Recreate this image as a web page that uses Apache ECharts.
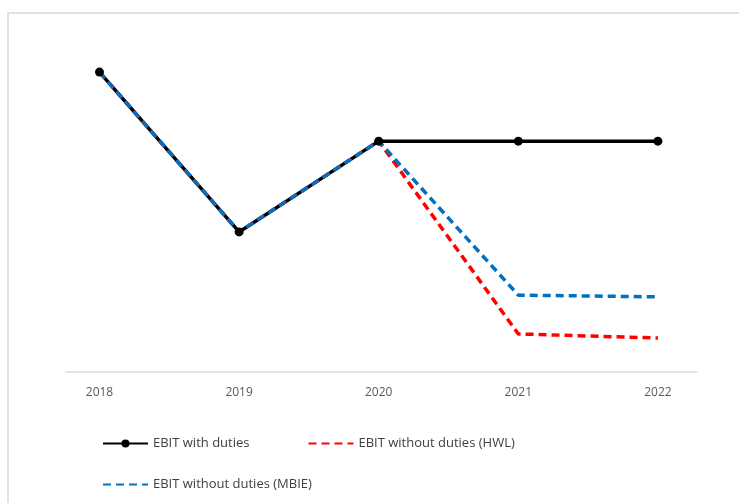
<!doctype html>
<html>
<head>
<meta charset="utf-8">
<title>EBIT</title>
<script src="https://cdn.jsdelivr.net/npm/echarts@6/dist/echarts.min.js"></script>
<style>
  html, body { margin: 0; padding: 0; background: #fff; }
  #chart { width: 739px; height: 503px; }
</style>
</head>
<body>
<div id="chart"></div>
<script>
// years on the x axis
var years = ['2018', '2019', '2020', '2021', '2022'];
// EBIT index (no scale shown on the original)
var withDuties = [88.2, 41.2, 67.9, 67.9, 67.9];
var withoutHWL = [88.2, 41.2, 67.9, 11.2, 10.0];
var withoutMBIE = [88.2, 41.2, 67.9, 22.6, 22.1];

var names = ['EBIT with duties', 'EBIT without duties (HWL)', 'EBIT without duties (MBIE)'];

function pts(arr) {
  return arr.map(function (v, i) { return [i, v]; });
}

var chart = echarts.init(document.getElementById('chart'));
var font = '"Open Sans", "Noto Sans", sans-serif';
var legendText = { color: '#404040', fontSize: 13, fontFamily: font };

chart.setOption({
  animation: false,
  textStyle: { fontFamily: font },
  graphic: [{
    type: 'rect',
    shape: { x: 8, y: 13, width: 800, height: 600 },
    style: { fill: 'none', stroke: '#d9d9d9', lineWidth: 1.5 },
    silent: true
  }],
  grid: { left: 66, right: 42, top: 32, bottom: 131 },
  xAxis: {
    type: 'value',
    min: -0.24,
    max: 4.28,
    axisLine: { show: true, lineStyle: { color: '#d9d9d9', width: 1.5 } },
    axisTick: { show: false },
    splitLine: { show: false },
    axisLabel: {
      customValues: [0, 1, 2, 3, 4],
      formatter: function (v) { return years[Math.round(v)]; },
      color: '#595959',
      fontSize: 12,
      margin: 15
    }
  },
  yAxis: {
    type: 'value',
    min: 0,
    max: 100,
    show: false,
    splitLine: { show: false }
  },
  legend: [{
    left: 97,
    top: 432,
    itemWidth: 45,
    itemHeight: 10,
    itemGap: 58,
    textStyle: legendText,
    data: [
      { name: names[0] },
      { name: names[1], itemStyle: { opacity: 0 } }
    ]
  }, {
    left: 97,
    top: 473,
    itemWidth: 45,
    itemHeight: 10,
    textStyle: legendText,
    data: [
      { name: names[2], itemStyle: { opacity: 0 } }
    ]
  }],
  series: [{
    name: names[0],
    type: 'line',
    data: pts(withDuties),
    symbol: 'circle',
    symbolSize: 9,
    itemStyle: { color: '#000' },
    lineStyle: { color: '#000', width: 3.5 }
  }, {
    name: names[1],
    type: 'line',
    data: pts(withoutHWL),
    showSymbol: false,
    itemStyle: { color: '#ff0000' },
    lineStyle: { color: '#ff0000', width: 3.5, type: [8, 5] }
  }, {
    name: names[2],
    type: 'line',
    data: pts(withoutMBIE),
    showSymbol: false,
    itemStyle: { color: '#0070c0' },
    lineStyle: { color: '#0070c0', width: 3.5, type: [8, 5] }
  }]
});
</script>
</body>
</html>
